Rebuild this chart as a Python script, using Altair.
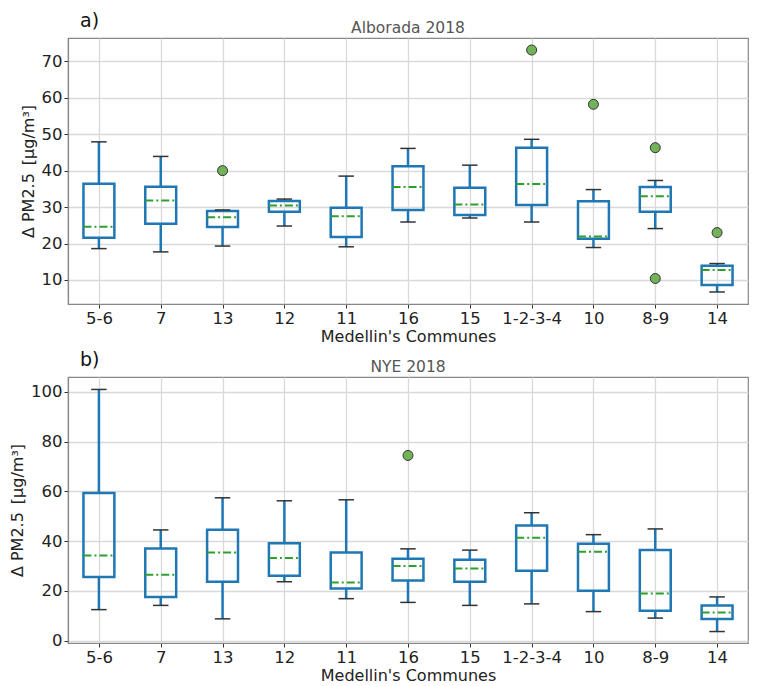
import altair as alt
import pandas as pd

communes = ["5-6", "7", "13", "12", "11", "16", "15", "1-2-3-4", "10", "8-9", "14"]

# Panel a) Alborada 2018
a_low = [18.6, 17.7, 19.3, 24.8, 19.1, 25.9, 27.0, 25.9, 18.9, 24.1, 6.7]
a_q1 = [21.6, 25.4, 24.5, 28.7, 21.8, 29.2, 27.8, 30.6, 21.3, 28.7, 8.6]
a_med = [24.6, 31.8, 27.2, 30.4, 27.5, 35.5, 30.7, 36.3, 21.9, 33.0, 12.7]
a_q3 = [36.4, 35.6, 28.9, 31.7, 29.8, 41.2, 35.3, 46.3, 31.6, 35.5, 13.9]
a_high = [47.9, 43.9, 29.2, 32.2, 38.5, 46.1, 41.5, 48.6, 34.8, 37.3, 14.5]
a_out_commune = ["13", "1-2-3-4", "10", "8-9", "8-9", "14"]
a_out_value = [40.0, 73.1, 58.2, 46.3, 10.4, 23.0]

# Panel b) NYE 2018
b_low = [12.5, 14.2, 8.8, 23.7, 16.9, 15.4, 14.2, 14.8, 11.7, 9.1, 3.7]
b_q1 = [25.6, 17.6, 23.7, 26.1, 21.0, 24.2, 23.7, 28.1, 20.1, 12.0, 8.7]
b_med = [34.2, 26.5, 35.4, 33.2, 23.4, 30.0, 29.0, 41.4, 35.7, 19.0, 11.3]
b_q3 = [59.3, 37.0, 44.6, 39.1, 35.4, 32.9, 32.5, 46.3, 38.9, 36.4, 14.2]
b_high = [100.9, 44.5, 57.4, 56.2, 56.6, 36.9, 36.4, 51.4, 42.6, 44.9, 17.6]
b_out_commune = ["16"]
b_out_value = [74.4]

BLUE = "#1f77b4"
GREEN = "#2ca02c"
FONT = "DejaVu Sans"
YTITLE = "Δ PM2.5\u2002[μg/m³]"
W, H = 680, 266
label_expr = "[" + ",".join("'" + c + "'" for c in communes) + "][datum.value]"


def panel(title, tag, low, q1, med, q3, high, oc, ov, ydomain, yvalues):
    df = pd.DataFrame({"commune": communes, "idx": list(range(len(communes))),
                       "low": low, "q1": q1, "med": med, "q3": q3, "high": high})
    odf = pd.DataFrame({"commune": oc, "value": ov})
    odf["idx"] = [communes.index(c) for c in oc]

    xscale = alt.Scale(domain=[-0.5, len(communes) - 0.5], nice=False, zero=False)
    yscale = alt.Scale(domain=ydomain, nice=False, zero=False)
    xaxis = alt.Axis(values=list(range(len(communes))), labelExpr=label_expr,
                     title="Medellin's Communes", grid=True)
    yaxis = alt.Axis(values=yvalues, title=YTITLE, grid=True)

    base = alt.Chart(df).transform_calculate(
        left="datum.idx - 0.25", right="datum.idx + 0.25",
        capl="datum.idx - 0.125", capr="datum.idx + 0.125")

    x_main = alt.X("idx:Q", scale=xscale, axis=xaxis)
    whisk_lo = base.mark_rule(color=BLUE, strokeWidth=2.5).encode(
        x=x_main, y=alt.Y("low:Q", scale=yscale, axis=yaxis), y2="q1:Q")
    whisk_hi = base.mark_rule(color=BLUE, strokeWidth=2.5).encode(
        x="idx:Q", y="q3:Q", y2="high:Q")
    cap_lo = base.mark_rule(color="#333333", strokeWidth=1.5).encode(
        x="capl:Q", x2="capr:Q", y="low:Q")
    cap_hi = base.mark_rule(color="#333333", strokeWidth=1.5).encode(
        x="capl:Q", x2="capr:Q", y="high:Q")
    box = base.mark_rect(fillOpacity=0, stroke=BLUE, strokeWidth=2.5).encode(
        x="left:Q", x2="right:Q", y="q1:Q", y2="q3:Q")
    median = base.mark_rule(color=GREEN, strokeWidth=2,
                            strokeDash=[8, 3, 2, 3]).encode(
        x="left:Q", x2="right:Q", y="med:Q")
    outl = alt.Chart(odf).mark_point(filled=True, fill="#72b35a", stroke="#333333",
                                     strokeWidth=1, size=100, opacity=1,
                                     fillOpacity=1, shape="circle").encode(
        x="idx:Q", y="value:Q")
    txt = pd.DataFrame({"t": [tag]})
    tag_text = alt.Chart(txt).mark_text(
        font=FONT, fontSize=19, color="#111111", align="left",
        baseline="alphabetic").encode(text="t:N", x=alt.value(12), y=alt.value(-11))
    ttl = pd.DataFrame({"t": [title]})
    title_text = alt.Chart(ttl).mark_text(
        font=FONT, fontSize=15.5, color="#555555", align="center",
        baseline="alphabetic").encode(text="t:N", x=alt.value(W / 2), y=alt.value(-5))

    return alt.layer(whisk_lo, whisk_hi, box, median, cap_lo, cap_hi, outl,
                     tag_text, title_text).properties(width=W, height=H)


pa = panel("Alborada 2018", "a)", a_low, a_q1, a_med, a_q3, a_high,
           a_out_commune, a_out_value, [3.4, 76.4], [10, 20, 30, 40, 50, 60, 70])
pb = panel("NYE 2018", "b)", b_low, b_q1, b_med, b_q3, b_high,
           b_out_commune, b_out_value, [-0.9, 105.9], [0, 20, 40, 60, 80, 100])

chart = alt.vconcat(pa, pb, spacing=4).properties(
    padding={"left": 0, "top": 3, "right": 0, "bottom": 0}
).configure_view(stroke="#888888", strokeWidth=1.2).configure_axis(
    labelFont=FONT, titleFont=FONT, labelFontSize=16.5, titleFontSize=16,
    labelColor="#222222", titleColor="#222222", titleFontWeight="normal",
    gridColor="#d9d9d9", gridWidth=1.3, domainColor="#888888", domainWidth=1.2,
    tickColor="#333333", tickSize=4, labelPadding=2,
).configure_axisY(titlePadding=5).configure_axisX(titlePadding=2)

chart.save("out.html", embed_options={"renderer": "svg", "actions": False})
